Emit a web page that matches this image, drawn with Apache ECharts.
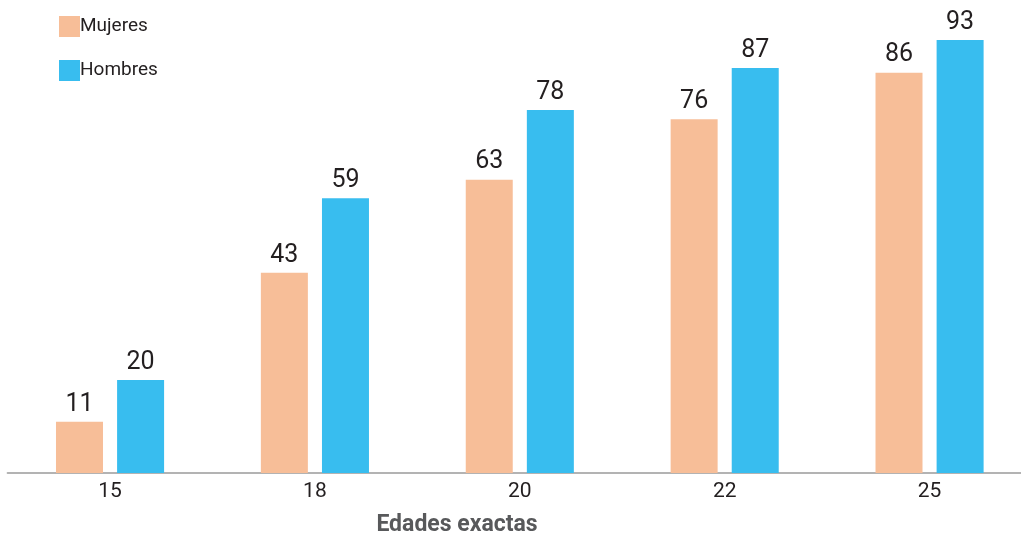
<!DOCTYPE html>
<html><head><meta charset="utf-8">
<script src="https://cdn.jsdelivr.net/npm/echarts@6/dist/echarts.min.js"></script>
<style>html,body{margin:0;padding:0;background:#fff;overflow:hidden;width:1021px;height:540px}#c{width:1032px;height:540px}</style>
</head><body><div id="c"></div>
<script>
const categories = ['15', '18', '20', '22', '25'];
const mujeres = [11, 43, 63, 76, 86];
const hombres = [20, 59, 78, 87, 93];
const seriesNames = ['Mujeres', 'Hombres'];
const axisTitle = 'Edades exactas';

const FONT = 'Roboto, sans-serif';
const chart = echarts.init(document.getElementById('c'));
const label = {show: true, position: 'top', distance: 5, color: '#231F20', fontSize: 25, fontFamily: FONT};
chart.setOption({
  animation: false,
  legend: {
    orient: 'vertical', left: 54, top: 11, itemWidth: 21, itemHeight: 21, itemGap: 23,
    icon: 'rect',
    textStyle: {color: '#231F20', fontSize: 19, fontFamily: FONT, padding: [0, 0, 0, -5]},
    data: seriesNames
  },
  grid: {left: 7.6, right: 0, top: 7.5, bottom: 67, containLabel: false},
  xAxis: {
    type: 'category', data: categories,
    axisLine: {lineStyle: {color: '#B3B3B3', width: 2}},
    axisTick: {show: false},
    axisLabel: {color: '#231F20', fontSize: 21, fontFamily: FONT, margin: 8}
  },
  yAxis: {type: 'value', min: 0, max: 100, show: false, splitLine: {show: false}},
  graphic: [{
    type: 'text', x: 457, y: 525,
    style: {text: axisTitle, textAlign: 'center', textVerticalAlign: 'middle', fill: '#58595B', fontSize: 23, fontWeight: 'bold', fontFamily: FONT}
  }],
  series: [
    {name: seriesNames[0], type: 'bar', data: mujeres, barWidth: 47, barGap: '30%', itemStyle: {color: '#F7BE98'}, label: label},
    {name: seriesNames[1], type: 'bar', data: hombres, barWidth: 47, barGap: '30%', itemStyle: {color: '#38BDEF'}, label: label}
  ]
});
</script></body></html>
